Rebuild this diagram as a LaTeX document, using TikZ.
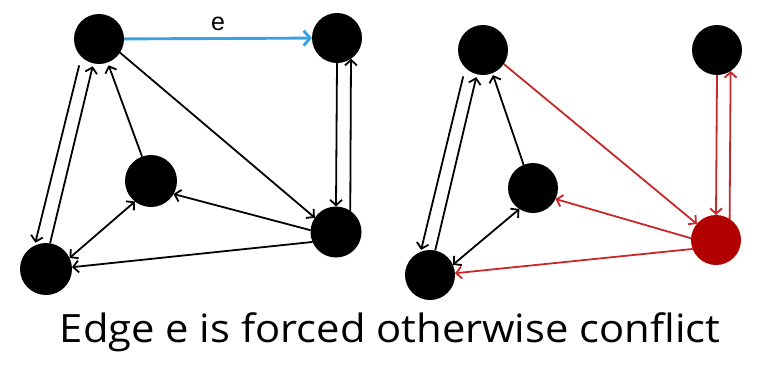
\documentclass[tikz,border=0pt]{standalone}
\usepackage{fontspec}
\setmainfont{Open Sans}
\newfontfamily\labfont{Liberation Sans}
\usetikzlibrary{arrows.meta}
\definecolor{eblue}{HTML}{3AA2E2}
\definecolor{ered}{HTML}{C8282A}
\definecolor{nred}{HTML}{B20000}
\begin{document}
\begin{tikzpicture}[x=1pt,y=-1pt,
  vtx/.style={circle,fill=black,minimum size=50pt,inner sep=0pt,outer sep=0pt},
  redvtx/.style={vtx,fill=nred},
  arr/.style={line width=1.8pt,-{Straight Barb[length=5.5pt,width=12pt]}},
  darr/.style={line width=1.8pt,{Straight Barb[length=5.5pt,width=12pt]}-{Straight Barb[length=5.5pt,width=12pt]}},
  bluearr/.style={line width=2.9pt,draw=eblue,-{Straight Barb[length=6.5pt,width=15pt]}},
  redarr/.style={arr,draw=ered}]
\fill[white] (0,0) rectangle (765,367);
\useasboundingbox (0,0) rectangle (765,367);
% left graph
\node[vtx] (A) at (99,39) {};
\node[vtx] (B) at (337,38) {};
\node[vtx,minimum size=52pt] (C) at (151,181) {};
\node[vtx,minimum size=52pt] (D) at (46,269) {};
\node[vtx,minimum size=51pt] (E) at (336,232) {};
\draw[bluearr] (A) -- node[above=6pt,font=\labfont\fontsize{25}{28}\selectfont,inner sep=0pt] (elabel) {e} (B);
\draw[arr] (A.-33) -- (E.146);
\draw[arr,shorten >=3pt] (C) -- (A);
\draw[arr] (E.176) -- (C.-30);
\draw[arr] (E.203) -- (D.4);
\draw[darr] (D.25) -- (C.232);
\draw[arr,shorten <=9pt,shorten >=3pt] (A.-135) -- (D.116);
\draw[arr,shorten >=3pt] (D.81) -- (A.-103);
\draw[arr] (B.-90) -- (E.90);
\draw[arr] (E.56) -- (B.-56);
% right graph
\node[vtx] (A2) at (483,50) {};
\node[vtx] (B2) at (717,50) {};
\node[vtx] (C2) at (533,188) {};
\node[vtx] (D2) at (430,275) {};
\node[redvtx] (E2) at (716,240) {};
\draw[redarr] (A2.-34) -- (E2.140);
\draw[arr,shorten >=2pt] (C2.112) -- (A2.-68);
\draw[redarr] (E2.176) -- (C2.-26);
\draw[redarr] (E2.201) -- (D2.4);
\draw[darr] (D2.24) -- (C2.237);
\draw[arr,shorten <=9pt,shorten >=2pt] (A2.-135) -- (D2.112);
\draw[arr,shorten >=3pt] (D2.78) -- (A2.-104);
\draw[redarr] (B2.-90) -- (E2.90);
\draw[redarr] (E2.57) -- (B2.-57);
% caption
\node[anchor=base,inner sep=0pt,font=\fontsize{39}{42}\selectfont] (cap) at (390,342.7) {\scalebox{1.07}[1]{Edge e is forced otherwise conflict}};
\end{tikzpicture}
\end{document}
